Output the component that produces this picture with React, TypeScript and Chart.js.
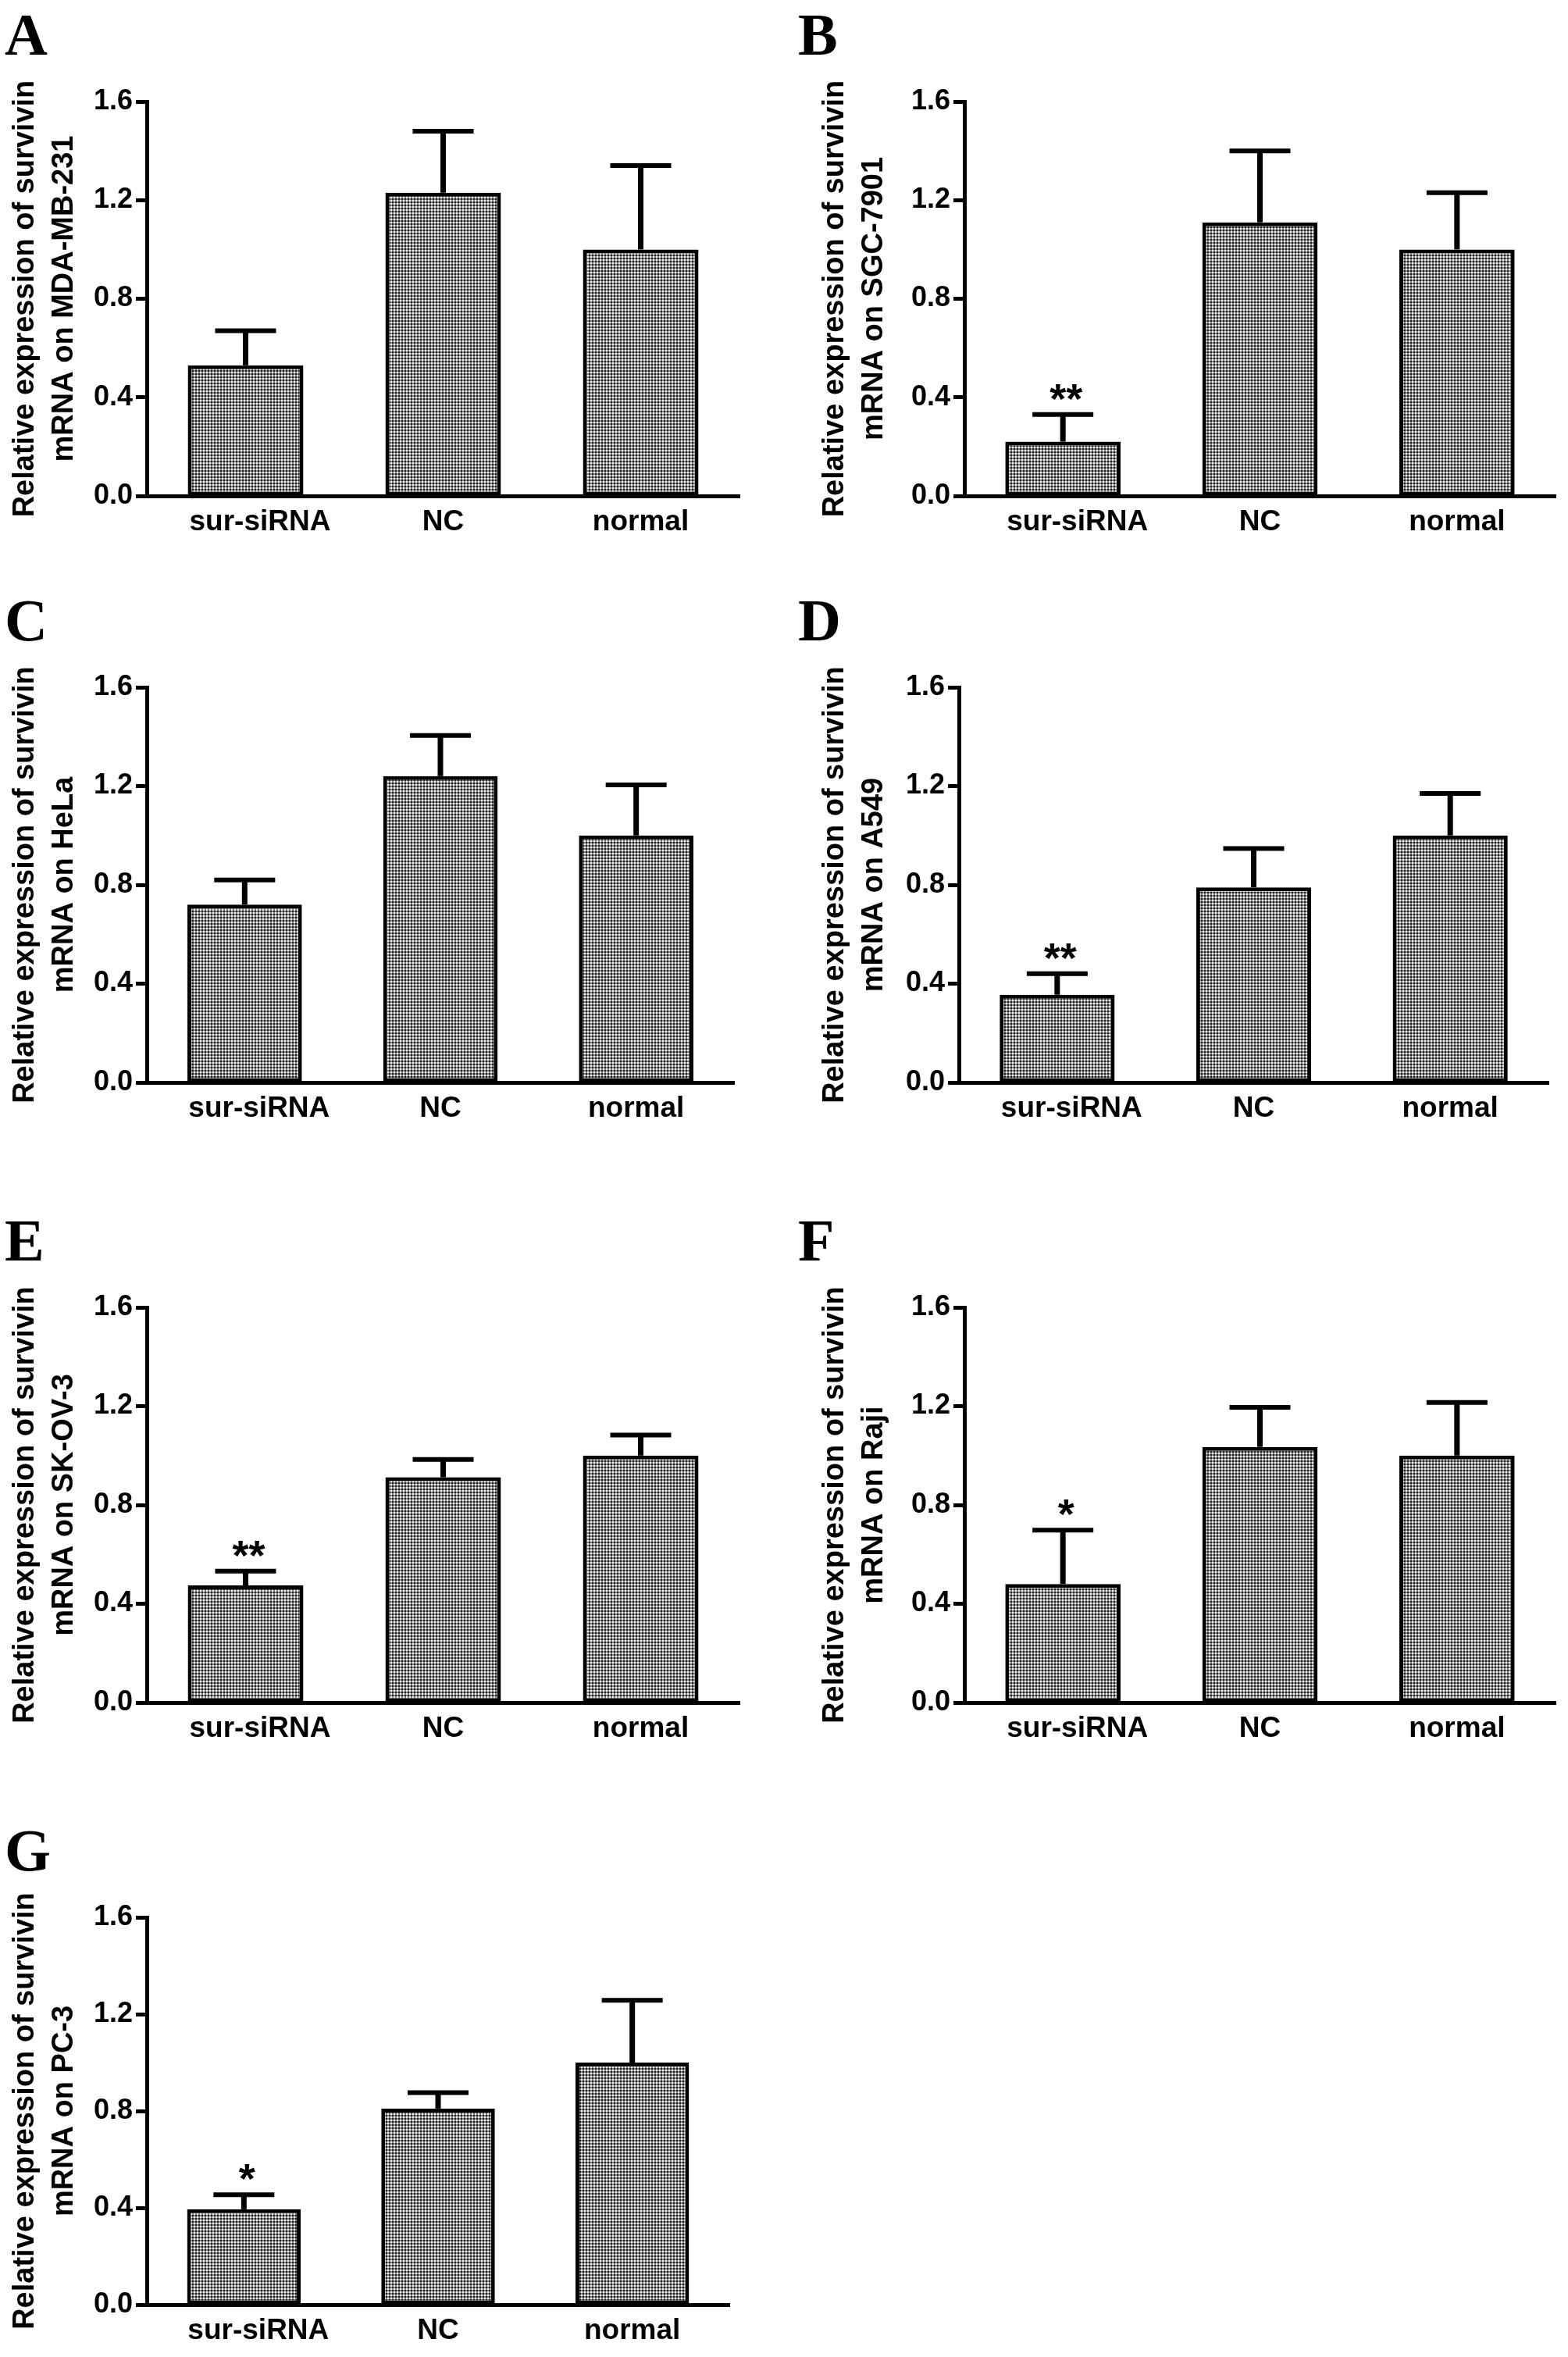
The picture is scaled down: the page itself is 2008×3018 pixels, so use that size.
import React, { useEffect, useRef } from "react";
import { Chart, registerables } from "chart.js";

Chart.register(...registerables);

// ---------- data ----------
const categories = ["sur-siRNA", "NC", "normal"];
const yTicks = [0, 0.4, 0.8, 1.2, 1.6];
const panelLetters = ["A", "B", "C", "D", "E", "F", "G"];
const cellLines = ["MDA-MB-231", "SGC-7901", "HeLa", "A549", "SK-OV-3", "Raji", "PC-3"];

const meanA = [0.53, 1.23, 1.0];
const semA = [0.14, 0.25, 0.34];
const meanB = [0.22, 1.11, 1.0];
const semB = [0.11, 0.29, 0.23];
const meanC = [0.72, 1.24, 1.0];
const semC = [0.1, 0.165, 0.205];
const meanD = [0.355, 0.79, 1.0];
const semD = [0.085, 0.157, 0.17];
const meanE = [0.474, 0.912, 1.0];
const semE = [0.058, 0.072, 0.083];
const meanF = [0.48, 1.035, 1.0];
const semF = [0.218, 0.16, 0.215];
const meanG = [0.394, 0.81, 1.0];
const semG = [0.06, 0.066, 0.257];

const means = [meanA, meanB, meanC, meanD, meanE, meanF, meanG];
const sems = [semA, semB, semC, semD, semE, semF, semG];
const significance = ["", "**", "", "**", "**", "*", "*"];

// ---------- layout (page pixels) ----------
const PANEL_W = 1004;
const layouts = [
  { col: 0, top: 0, h: 740, axisX: 188, y16: 130, y0: 635, xEnd: 947 },
  { col: 1, top: 0, h: 740, axisX: 1235, y16: 130, y0: 635, xEnd: 1992 },
  { col: 0, top: 740, h: 780, axisX: 188, y16: 880, y0: 1386, xEnd: 940 },
  { col: 1, top: 740, h: 780, axisX: 1228, y16: 880, y0: 1386, xEnd: 1983 },
  { col: 0, top: 1520, h: 770, axisX: 188, y16: 1674, y0: 2180, xEnd: 947 },
  { col: 1, top: 1520, h: 770, axisX: 1235, y16: 1674, y0: 2180, xEnd: 1992 },
  { col: 0, top: 2290, h: 728, axisX: 188, y16: 2455, y0: 2951, xEnd: 934 },
];

const SANS = '"Liberation Sans", Arial, sans-serif';
const TITLE_SIZE = 38;
const TITLE_LH = 1.29;

function makePattern(): CanvasPattern | string {
  const c = document.createElement("canvas");
  c.width = 4;
  c.height = 4;
  const g = c.getContext("2d");
  if (!g) return "#888";
  g.fillStyle = "#858585";
  g.fillRect(0, 0, 4, 4);
  g.fillStyle = "#efefef";
  g.fillRect(0, 0, 2, 2);
  g.fillStyle = "#262626";
  g.fillRect(2, 2, 2, 2);
  const p = g.createPattern(c, "repeat");
  return p || "#888";
}

function Panel({ idx }: { idx: number }) {
  const ref = useRef<HTMLCanvasElement | null>(null);
  const L = layouts[idx];
  const left = L.col * PANEL_W;

  useEffect(() => {
    if (!ref.current) return;
    const mean = means[idx];
    const sem = sems[idx];
    const sig = significance[idx];
    const letter = panelLetters[idx];
    const yScaleWidth = L.axisX - left;
    const xScaleHeight = L.top + L.h - L.y0;
    const padTop = L.y16 - L.top;
    const padRight = left + PANEL_W - L.xEnd;
    const titleCenter = L.col === 0 ? 33 : 66;
    const titlePad = titleCenter - (TITLE_SIZE * TITLE_LH) / 2;
    const letterX = L.col === 0 ? 6 : 18;
    const letterBaseline = padTop - 60;

    const overlay = {
      id: "errAndLabels",
      afterDatasetsDraw(chart: any) {
        const ctx = chart.ctx;
        const meta = chart.getDatasetMeta(0);
        const y = chart.scales.y;
        ctx.save();
        ctx.strokeStyle = "#000";
        ctx.fillStyle = "#000";
        meta.data.forEach((bar: any, i: number) => {
          const x = bar.x;
          const yb = y.getPixelForValue(mean[i]);
          const yt = y.getPixelForValue(mean[i] + sem[i]);
          ctx.lineWidth = 7;
          ctx.lineCap = "butt";
          ctx.beginPath();
          ctx.moveTo(x, yb);
          ctx.lineTo(x, yt);
          ctx.stroke();
          ctx.lineWidth = 6;
          ctx.beginPath();
          ctx.moveTo(x - 39, yt);
          ctx.lineTo(x + 39, yt);
          ctx.stroke();
          if (i === 0 && sig) {
            ctx.font = `bold 54px ${SANS}`;
            ctx.textAlign = "center";
            ctx.textBaseline = "alphabetic";
            ctx.fillText(sig, x + 4, yt - 2);
          }
        });
        ctx.restore();
      },
      afterDraw(chart: any) {
        const ctx = chart.ctx;
        ctx.save();
        ctx.fillStyle = "#000";
        ctx.font = 'bold 76px "Liberation Serif", "Times New Roman", serif';
        ctx.textAlign = "left";
        ctx.textBaseline = "alphabetic";
        ctx.fillText(letter, letterX, letterBaseline);
        ctx.restore();
      },
    };

    const chart = new Chart(ref.current, {
      type: "bar",
      data: {
        labels: categories,
        datasets: [
          {
            data: mean,
            backgroundColor: makePattern() as any,
            borderColor: "#000",
            borderWidth: 5,
            borderSkipped: false,
            barPercentage: 0.585,
            categoryPercentage: 1,
          },
        ],
      },
      options: {
        animation: false,
        responsive: true,
        maintainAspectRatio: false,
        devicePixelRatio: 1,
        layout: { padding: { top: padTop, right: padRight, left: 0, bottom: 0 } },
        plugins: { legend: { display: false }, tooltip: { enabled: false }, title: { display: false } },
        scales: {
          x: {
            type: "category",
            offset: true,
            grid: { display: false, drawTicks: false },
            border: { display: true, color: "#000", width: 5 },
            ticks: {
              color: "#000",
              padding: 12,
              maxRotation: 0,
              autoSkip: false,
              font: { family: SANS, size: 37, weight: "bold" },
              callback: (_v: any, i: number) =>
                i === 0 ? "\u2002\u2002" + categories[i] : categories[i],
            },
            afterFit: (s: any) => {
              s.height = xScaleHeight;
            },
          },
          y: {
            min: 0,
            max: 1.6,
            afterBuildTicks: (s: any) => {
              s.ticks = yTicks.map((v) => ({ value: v }));
            },
            grid: {
              display: true,
              drawOnChartArea: false,
              drawTicks: true,
              tickLength: 14,
              tickWidth: 5,
              tickColor: "#000",
            },
            border: { display: true, color: "#000", width: 5 },
            ticks: {
              color: "#000",
              padding: 4,
              font: { family: SANS, size: 36, weight: "bold" },
              callback: (v: any) => Number(v).toFixed(1),
            },
            title: {
              display: true,
              text: ["Relative expression of survivin", `mRNA on ${cellLines[idx]}`],
              color: "#000",
              font: { family: SANS, size: TITLE_SIZE, weight: "bold", lineHeight: TITLE_LH },
              padding: { top: titlePad, bottom: 0 },
            },
            afterFit: (s: any) => {
              s.width = yScaleWidth;
            },
          },
        },
      },
      plugins: [overlay],
    } as any);
    return () => chart.destroy();
  }, [idx]);

  return (
    <div
      style={{
        position: "absolute",
        left,
        top: L.top,
        width: PANEL_W,
        height: L.h,
      }}
    >
      <canvas ref={ref} />
    </div>
  );
}

export default function App() {
  return (
    <div
      style={{
        position: "fixed",
        left: 0,
        top: 0,
        width: 2008,
        height: 3018,
        background: "#fff",
        overflow: "hidden",
      }}
    >
      {layouts.map((_, i) => (
        <Panel key={i} idx={i} />
      ))}
    </div>
  );
}
